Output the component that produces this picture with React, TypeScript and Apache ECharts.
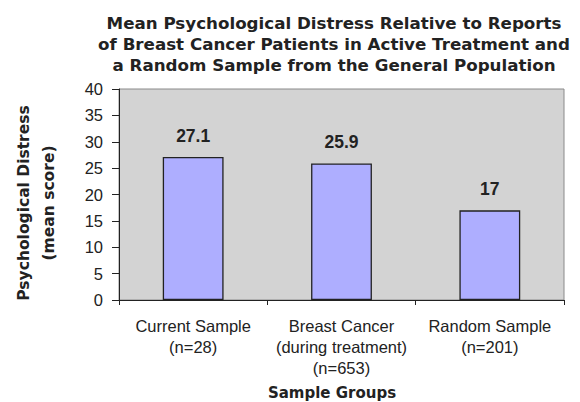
import React, { useEffect, useRef } from "react";
import * as echarts from "echarts";

const titleText =
  "Mean Psychological Distress Relative to Reports\nof Breast Cancer Patients in Active Treatment and\na Random Sample from the General Population";
const categories = ["Current Sample\n(n=28)", "Breast Cancer\n(during treatment)\n(n=653)", "Random Sample\n(n=201)"];
const values = [27.1, 25.9, 17];
const yAxisName = "Psychological Distress\n(mean score)";
const xAxisName = "Sample Groups";

const SANS = "'Liberation Sans', Arial, sans-serif";
const WIDE = "'DejaVu Sans', sans-serif";

export default function App() {
  const ref = useRef<HTMLDivElement>(null);
  useEffect(() => {
    const chart = echarts.init(ref.current!, null, { renderer: "svg" });
    chart.setOption({
      animation: false,
      backgroundColor: "#ffffff",
      textStyle: { fontFamily: SANS },
      title: {
        text: titleText,
        left: 329,
        top: 7,
        textAlign: "center",
        textStyle: { fontFamily: WIDE, fontSize: 16.7, fontWeight: "bold", color: "#222", lineHeight: 21 },
      },
      grid: { left: 119, top: 89, right: 16, bottom: 102, show: true, backgroundColor: "#d3d3d3", borderColor: "#8a8a8a", borderWidth: 1 },
      xAxis: {
        type: "category",
        data: categories,
        axisLine: { lineStyle: { color: "#222", width: 1 } },
        axisTick: { show: true, length: 5, lineStyle: { color: "#222" } },
        axisLabel: { interval: 0, fontSize: 16.5, color: "#222", lineHeight: 21, margin: 15, fontFamily: SANS },
      },
      yAxis: {
        type: "value",
        min: 0,
        max: 40,
        interval: 5,
        axisLine: { show: true, lineStyle: { color: "#222", width: 1 } },
        axisTick: { show: true, length: 7, lineStyle: { color: "#222" } },
        axisLabel: { fontSize: 16.5, color: "#222", margin: 16, fontFamily: SANS },
        splitLine: { show: false },
      },
      graphic: [
        {
          type: "text",
          x: 36,
          y: 203,
          rotation: Math.PI / 2,
          style: {
            text: yAxisName,
            fontFamily: WIDE,
            fontSize: 15.5,
            fontWeight: "bold",
            fill: "#222",
            lineHeight: 25,
            align: "center",
            verticalAlign: "middle",
          },
        },
        {
          type: "text",
          x: 332,
          y: 393,
          style: {
            text: xAxisName,
            fontFamily: WIDE,
            fontSize: 15,
            fontWeight: "bold",
            fill: "#222",
            align: "center",
            verticalAlign: "middle",
          },
        },
      ],
      series: [
        {
          type: "bar",
          data: values,
          barWidth: "41%",
          itemStyle: { color: "#aeaeff", borderColor: "#222", borderWidth: 1.3 },
          label: { show: true, position: "top", distance: 12, fontSize: 17.5, fontWeight: "bold", color: "#222", fontFamily: SANS },
        },
      ],
    });
    return () => chart.dispose();
  }, []);
  return <div ref={ref} style={{ width: 580, height: 402, position: "absolute", left: 0, top: 0 }} />;
}
